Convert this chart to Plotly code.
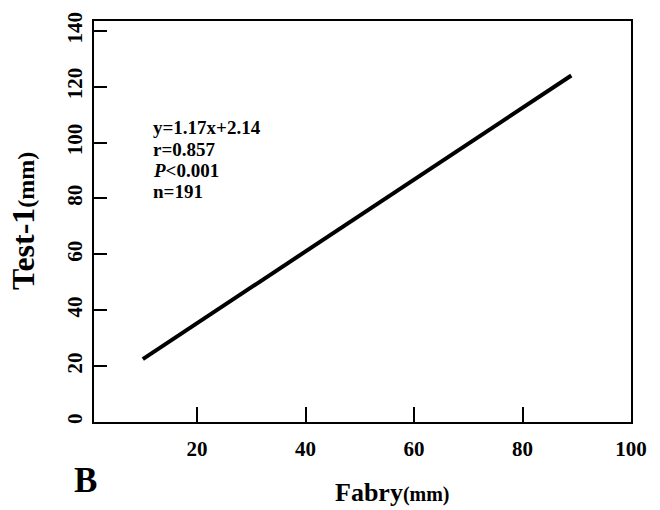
import plotly.graph_objects as go

# Data
line_x = [10, 89]
line_y = [22.5, 124]
x_ticks = [20, 40, 60, 80, 100]
y_ticks = [0, 20, 40, 60, 80, 100, 120, 140]
stats_lines = ["y=1.17x+2.14", "r=0.857", "<i>P</i><0.001", "n=191"]

FONT = "Liberation Serif"

fig = go.Figure()
fig.add_trace(go.Scatter(x=line_x, y=line_y, mode="lines",
                         line=dict(color="black", width=4),
                         showlegend=False, hoverinfo="skip"))

W, H = 660, 510
L, R, T, B = 94, 29, 17, 88
pw, ph = W - L - R, H - T - B

def px(x):
    return (x - L) / pw

def py(y):
    return (H - B - y) / ph

annotations = []
stat_y = [125, 146.5, 168, 189.5]
for txt, yy in zip(stats_lines, stat_y):
    annotations.append(dict(text="<b>" + txt + "</b>", x=px(151), y=py(yy),
                            xref="paper", yref="paper", xanchor="left", yanchor="middle",
                            showarrow=False, font=dict(family=FONT, size=19, color="black")))

annotations.append(dict(text="<b>B</b>", x=px(85), y=py(481), xref="paper", yref="paper",
                        xanchor="center", yanchor="middle", showarrow=False,
                        font=dict(family=FONT, size=35, color="black")))
annotations.append(dict(text="<b>Fabry<span style='font-size:20px'>(mm)</span></b>",
                        x=px(392), y=py(493), xref="paper", yref="paper",
                        xanchor="center", yanchor="middle", showarrow=False,
                        font=dict(family=FONT, size=26, color="black")))
annotations.append(dict(text="<b>Test-1<span style='font-size:24px'>(mm)</span></b>",
                        x=px(23), y=py(219), xref="paper", yref="paper",
                        xanchor="center", yanchor="middle", showarrow=False, textangle=-90,
                        font=dict(family=FONT, size=32, color="black")))

fig.update_layout(
    width=W, height=H,
    margin=dict(l=L, r=R, t=T, b=B),
    paper_bgcolor="white", plot_bgcolor="white",
    annotations=annotations,
    xaxis=dict(range=[1, 100], tickvals=x_ticks,
               ticktext=["<b>%d</b>" % v for v in x_ticks],
               ticks="inside", ticklen=15, tickwidth=1.5, tickcolor="black",
               showline=True, linewidth=2, linecolor="black", mirror=True,
               showgrid=False, zeroline=False, ticklabelstandoff=7,
               tickfont=dict(family=FONT, size=21, color="black")),
    yaxis=dict(range=[0, 143.5], tickvals=y_ticks,
               ticktext=["<b>%d</b>" % v for v in y_ticks],
               ticks="inside", ticklen=13, tickwidth=1.5, tickcolor="black",
               showline=True, linewidth=2, linecolor="black", mirror=True,
               showgrid=False, zeroline=False, tickangle=-90, ticklabelstandoff=2,
               tickfont=dict(family=FONT, size=21, color="black")),
)

fig.write_html("out.html")
